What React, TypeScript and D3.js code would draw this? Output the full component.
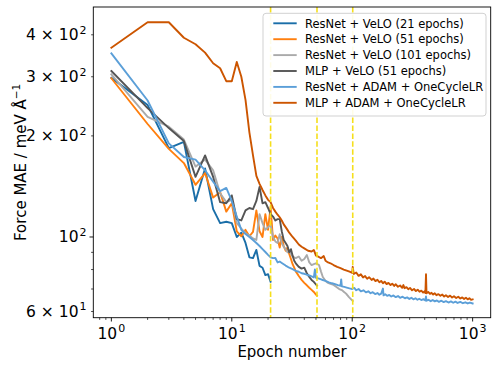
import React, { useEffect, useRef } from 'react';
import * as d3 from 'd3';

// [epoch, force MAE] pairs
const resnetVelo21 = [
  [1, 298], [2, 247], [3, 184], [4, 192], [5, 128], [6, 160], [7, 121], [8, 110], [9, 111], [10, 110],
  [11, 100], [12, 103], [13, 96], [14, 87], [15, 86.5], [16, 91.5], [17, 82], [18, 81], [19, 77], [20, 77.5], [21, 73.6],
];

const resnetVelo51 = [
  [1, 297], [2, 217], [3, 183], [4, 166], [5, 143], [6, 155], [7, 131], [8, 136], [9, 119], [10, 126],
  [11, 104], [12, 100.5], [13, 105], [14, 100.5], [15, 103.5], [16, 120], [17, 104], [18, 100], [19, 117], [20, 105],
  [21, 123], [22, 98], [23, 101], [24, 99], [25, 93], [26, 100], [27, 94], [28, 91], [29, 93], [30, 89],
  [31, 86], [32, 83], [33, 81], [34, 79], [36, 76.5], [38, 74.5], [40, 73], [42, 71.8], [44, 70.6], [46, 69.6],
  [48, 68.6], [50, 67.4], [51, 66.9],
];

const resnetVelo101 = [
  [1, 305], [2, 228], [3, 213], [4, 195], [5, 162], [6, 170], [7, 158], [8, 135], [9, 127], [10, 129],
  [11, 110], [12, 106], [13, 102.6], [14, 101], [15, 99], [16, 98], [17, 117], [18, 110], [19, 105], [20, 107],
  [21, 108.6], [22, 100], [23, 97], [24, 96], [25, 102], [26, 96], [27, 93.5], [28, 92], [29, 90], [30, 91],
  [31, 89], [32, 87.5], [34, 86.5], [36, 87.5], [38, 85], [40, 86], [42, 88.4], [44, 84], [46, 82.5], [48, 83],
  [50, 83.5], [53, 82.5], [55, 79], [57, 76], [60, 74], [63, 73], [66, 72.5], [70, 72], [74, 71], [78, 70],
  [82, 69.5], [86, 68.5], [90, 67.5], [94, 66.2], [98, 65.2], [101, 64.5],
];

const mlpVelo51 = [
  [1, 312], [2, 242], [3, 211], [4, 193], [5, 151], [6, 175], [7, 151], [8, 127], [9, 126], [10, 133],
  [11, 113], [12, 112], [13, 120], [14, 122], [15, 121], [16, 128], [17, 141], [18, 126], [19, 127], [20, 122],
  [21, 117], [22, 115], [23, 112], [24, 113], [25, 113], [26, 104], [27, 98], [28, 96], [29, 94], [30, 90],
  [31, 92], [32, 88], [33, 85], [34, 83.5], [36, 81.5], [38, 80.5], [40, 81], [42, 78], [44, 76], [46, 74.5],
  [48, 73.5], [50, 72.2], [51, 71.6],
];

const resnetAdam = [
  [1, 352], [2, 255], [3, 190], [4, 173], [5, 170], [6, 158], [7, 146], [8, 137], [9, 140], [10, 128],
  [11, 115], [12, 105], [13, 102], [14, 100], [15, 98], [16, 96], [17, 94], [18, 92], [19, 90.2], [20, 88.5],
  [21, 87], [22, 86.5], [23, 86.6], [24, 84], [25, 84.5], [26, 83.7], [28, 82.2], [30, 81], [32, 80.2], [34, 79.3],
  [36, 78.8], [38, 78], [40, 77.7], [42, 77.2], [44, 76.8], [46, 76.3], [48, 75.8], [49, 80], [50, 75.6], [53, 75.2],
  [56, 74.6], [60, 74], [64, 73.3], [68, 72.8], [72, 72.4], [76, 71.9], [80, 71.6], [81, 74.8], [82, 71.3], [86, 71],
  [90, 70.7], [95, 70.3], [100, 70], [104, 70.5], [108, 69.4], [113, 70], [118, 68.9], [124, 69.4], [130, 68.4], [136, 68.9],
  [142, 68], [148, 68.5], [155, 67.6], [162, 68.1], [168, 67.3], [174, 67.8], [180, 70.2], [182, 67], [188, 67.5], [195, 66.8],
  [203, 67.2], [211, 66.5], [220, 67], [230, 66.2], [240, 66.7], [250, 65.9], [262, 66.4], [274, 65.7], [286, 66.1], [298, 65.4],
  [310, 65.9], [322, 65.2], [335, 65.7], [348, 65], [360, 65.5], [375, 64.9], [390, 65.3], [405, 64.7], [410, 66.5], [414, 64.6],
  [430, 65], [448, 64.4], [466, 64.9], [485, 64.3], [505, 64.7], [525, 64.1], [550, 64.6], [575, 64], [600, 64.4], [630, 63.8],
  [660, 64.3], [690, 63.7], [720, 64.2], [750, 63.6], [790, 64.1], [830, 63.5], [870, 63.9], [910, 63.4], [950, 63.8], [1000, 63.4],
];

const mlpAdam = [
  [1, 366], [2, 436], [3, 436], [4, 392], [5, 375], [6, 354], [7, 329], [8, 318], [9, 291], [10, 291],
  [11, 332], [12, 300], [13, 256], [14, 205], [15, 175], [16, 152], [17, 144], [18, 138], [19, 133], [20, 129],
  [21, 127], [22, 122], [23, 119], [24, 116.5], [25, 114.5], [26, 112], [27, 109], [28, 107], [29, 105], [30, 103],
  [32, 100], [34, 97.5], [36, 95], [38, 93.5], [40, 92.5], [43, 91], [46, 90.5], [48, 91.5], [50, 88], [52, 87.5],
  [55, 86.5], [58, 87.8], [60, 85], [63, 84], [66, 83.5], [70, 82.5], [75, 81.5], [80, 80.8], [85, 80], [90, 79.4],
  [95, 78.8], [100, 78.2], [101, 81.5], [103, 77.6], [108, 78.4], [113, 76.6], [118, 77.4], [123, 75.8], [128, 76.5], [133, 75.1],
  [138, 75.9], [145, 74.5], [150, 75.2], [156, 73.9], [162, 74.6], [168, 73.3], [174, 74], [180, 72.8], [186, 73.6], [193, 72.4],
  [200, 73], [208, 71.9], [215, 72.6], [223, 71.5], [230, 72.3], [240, 71.1], [250, 71.7], [260, 70.6], [266, 71.9], [272, 70.4],
  [282, 70.9], [292, 69.9], [302, 70.5], [314, 69.4], [326, 70], [338, 69], [350, 69.7], [362, 68.7], [375, 69.2], [388, 68.3],
  [398, 68.9], [405, 68.1], [410, 77.5], [414, 68], [428, 68.6], [442, 67.7], [456, 68.2], [470, 67.4], [485, 68], [500, 67.1],
  [520, 67.6], [540, 66.8], [560, 67.4], [580, 66.5], [600, 67.1], [625, 66.3], [650, 66.9], [675, 66], [700, 66.6], [730, 65.8],
  [760, 66.4], [790, 65.6], [820, 66.1], [850, 65.4], [880, 65.9], [910, 65.2], [940, 65.7], [970, 65], [1000, 65.2],
];

const labels = [
  'ResNet + VeLO (21 epochs)',
  'ResNet + VeLO (51 epochs)',
  'ResNet + VeLO (101 epochs)',
  'MLP + VeLO (51 epochs)',
  'ResNet + ADAM + OneCycleLR',
  'MLP + ADAM + OneCycleLR',
];
const colors = ['#1a6ea8', '#ff7f0e', '#aaaaaa', '#555555', '#5b9fd8', '#cc5500'];
const cutoffEpochs = [21, 51, 101];

const xMajorTicks = [1, 10, 100, 1000];
const yTicks = [60, 70, 80, 90, 100, 200, 300, 400];
const yTickLabels = { 60: ['6 × 10', '1'], 100: ['10', '2'], 200: ['2 × 10', '2'], 300: ['3 × 10', '2'], 400: ['4 × 10', '2'] };

const font = 'DejaVu Sans, sans-serif';

const App = () => {
  const svgRef = useRef<SVGSVGElement>(null);

  useEffect(() => {
    document.body.style.margin = '0';
    const width = 499;
    const height = 370;
    const margin = { top: 7, right: 8.3, bottom: 52.3, left: 93.3 };

    const svg = d3.select(svgRef.current);
    svg.selectAll('*').remove();

    const x = d3
      .scaleLog()
      .domain([10 ** -0.15, 10 ** 3.15])
      .range([margin.left, width - margin.right]);
    const y = d3
      .scaleLog()
      .domain([57.5, 484])
      .range([height - margin.bottom, margin.top]);

    const series = [resnetVelo21, resnetVelo51, resnetVelo101, mlpVelo51, resnetAdam, mlpAdam];

    const line = d3
      .line<number[]>()
      .x((d) => x(d[0]))
      .y((d) => y(d[1]));

    // lines
    series.forEach((data, i) => {
      svg
        .append('path')
        .datum(data)
        .attr('d', line)
        .attr('fill', 'none')
        .attr('stroke', colors[i])
        .attr('stroke-width', 1.9)
        .attr('stroke-linejoin', 'round')
        .attr('stroke-linecap', 'square');
    });

    // dashed yellow cut-offs
    svg
      .selectAll('line.cut')
      .data(cutoffEpochs)
      .enter()
      .append('line')
      .attr('class', 'cut')
      .attr('x1', (d) => x(d))
      .attr('x2', (d) => x(d))
      .attr('y1', margin.top)
      .attr('y2', height - margin.bottom)
      .attr('stroke', '#f5df1c')
      .attr('stroke-width', 1.6)
      .attr('stroke-dasharray', '5.5,2.4');

    // frame
    svg
      .append('rect')
      .attr('x', margin.left)
      .attr('y', margin.top)
      .attr('width', width - margin.left - margin.right)
      .attr('height', height - margin.top - margin.bottom)
      .attr('fill', 'none')
      .attr('stroke', '#000')
      .attr('stroke-width', 0.9);

    const bottom = height - margin.bottom;

    // x ticks
    const xMinor: number[] = [];
    for (let p = -1; p <= 3; p++) {
      for (let m = 2; m <= 9; m++) {
        const v = m * 10 ** p;
        if (v > x.domain()[0] && v < x.domain()[1]) xMinor.push(v);
      }
    }
    xMinor.forEach((v) => {
      svg.append('line').attr('x1', x(v)).attr('x2', x(v)).attr('y1', bottom).attr('y2', bottom + 2.2)
        .attr('stroke', '#000').attr('stroke-width', 0.7);
    });
    xMajorTicks.forEach((v, i) => {
      svg.append('line').attr('x1', x(v)).attr('x2', x(v)).attr('y1', bottom).attr('y2', bottom + 3.8)
        .attr('stroke', '#000').attr('stroke-width', 0.9);
      const t = svg.append('text').attr('x', x(v)).attr('y', bottom + 21).attr('text-anchor', 'middle')
        .attr('font-family', font).attr('font-size', 15.5).attr('fill', '#000');
      t.append('tspan').text('10');
      t.append('tspan').attr('dx', 1).attr('dy', -6.5).attr('font-size', 11).text(String(i));
    });

    // y ticks
    yTicks.forEach((v) => {
      const major = v === 100;
      svg.append('line').attr('x1', margin.left - (major ? 3.8 : 2.2)).attr('x2', margin.left).attr('y1', y(v)).attr('y2', y(v))
        .attr('stroke', '#000').attr('stroke-width', major ? 0.9 : 0.7);
      const lab = yTickLabels[v];
      if (lab) {
        const t = svg.append('text').attr('x', 86.5).attr('y', y(v) + 5.5).attr('text-anchor', 'end')
          .attr('font-family', font).attr('font-size', 15.5).attr('fill', '#000');
        t.append('tspan').text(lab[0]);
        t.append('tspan').attr('dx', 1).attr('dy', -6.5).attr('font-size', 11).text(lab[1]);
      }
    });

    // axis labels
    svg.append('text').attr('x', (margin.left + width - margin.right) / 2).attr('y', 357)
      .attr('text-anchor', 'middle').attr('font-family', font).attr('font-size', 15).text('Epoch number');
    const yl = svg.append('text')
      .attr('transform', `translate(26, ${(margin.top + bottom) / 2}) rotate(-90)`)
      .attr('text-anchor', 'middle').attr('font-family', font).attr('font-size', 15);
    yl.append('tspan').text('Force MAE / meV Å');
    yl.append('tspan').attr('dy', -6).attr('font-size', 10.5).text('−1');

    // legend
    const lg = svg.append('g').attr('transform', 'translate(263, 13.3)');
    lg.append('rect').attr('width', 223).attr('height', 102.7).attr('rx', 3)
      .attr('fill', '#fff').attr('fill-opacity', 0.9).attr('stroke', '#cccccc').attr('stroke-width', 0.9);
    const item = lg.selectAll('.legend').data(labels).enter().append('g')
      .attr('class', 'legend')
      .attr('transform', (d, i) => `translate(0, ${10 + i * 15.9})`);
    item.append('line').attr('x1', 10.3).attr('x2', 33.7).attr('stroke', (d, i) => colors[i]).attr('stroke-width', 1.9);
    item.append('text').attr('x', 42).attr('y', 4.2).attr('font-family', font).attr('font-size', 11.5).text((d) => d);
  }, []);

  return <svg ref={svgRef} width={499} height={370} style={{ display: 'block' }}></svg>;
};

export default App;
